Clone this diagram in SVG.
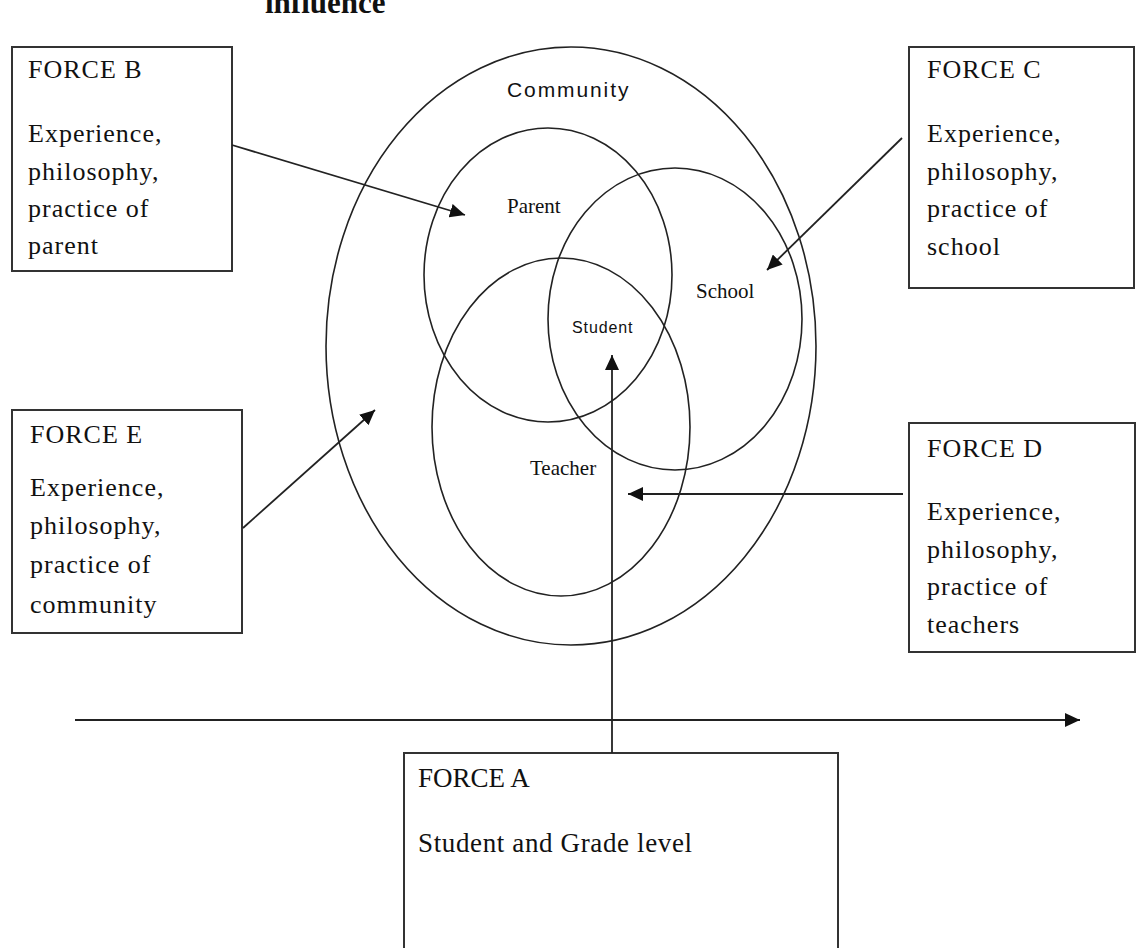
<svg xmlns="http://www.w3.org/2000/svg" width="1137" height="948" viewBox="0 0 1137 948">
<style>
.box{fill:#fff;stroke:#333;stroke-width:2}
.ring{fill:none;stroke:#222;stroke-width:1.6}
.bt{font-family:"Liberation Serif","Times New Roman",serif;font-size:26px;letter-spacing:1px;fill:#111}
.at{font-family:"Liberation Serif","Times New Roman",serif;font-size:27px;fill:#111}
.lbl{font-family:"Liberation Serif","Times New Roman",serif;font-size:21px;fill:#111}
.sans{font-family:"Liberation Sans",Arial,sans-serif;fill:#111}
.con{fill:none;stroke:#222;stroke-width:1.8}
</style>
<defs>
<marker id="ah" markerUnits="userSpaceOnUse" markerWidth="16" markerHeight="14" refX="15" refY="7" orient="auto">
<path d="M0,0 L15,7 L0,14 Z" fill="#111"/>
</marker>
</defs>
<rect width="1137" height="948" fill="#fff"/>
<text x="265" y="13" font-family="Liberation Serif,'Times New Roman',serif" font-size="31" font-weight="bold" fill="#111">influence</text>

<g id="circles">
<ellipse id="community" class="ring" cx="571" cy="346" rx="245" ry="299"/>
<ellipse id="parent" class="ring" cx="548" cy="275" rx="124" ry="147"/>
<ellipse id="school" class="ring" cx="675" cy="319" rx="127" ry="151"/>
<ellipse id="teacher" class="ring" cx="561" cy="427" rx="129" ry="169"/>
</g>
<g id="labels">
<text class="sans" x="507" y="97" font-size="21" letter-spacing="1.9">Community</text>
<text class="lbl" x="507" y="213">Parent</text>
<text class="lbl" x="696" y="298">School</text>
<text class="sans" x="572" y="333" font-size="16" letter-spacing="0.9">Student</text>
<text class="lbl" x="530" y="475">Teacher</text>
</g>

<g id="forceB">
<rect class="box" x="12" y="47" width="220" height="224"/>
<text class="bt" x="28" y="78">FORCE B</text>
<text class="bt" x="28" y="142">Experience,</text>
<text class="bt" x="28" y="180">philosophy,</text>
<text class="bt" x="28" y="217">practice of</text>
<text class="bt" x="28" y="254">parent</text>
</g>
<g id="forceC">
<rect class="box" x="909" y="47" width="225" height="241"/>
<text class="bt" x="927" y="78">FORCE C</text>
<text class="bt" x="927" y="142">Experience,</text>
<text class="bt" x="927" y="180">philosophy,</text>
<text class="bt" x="927" y="217">practice of</text>
<text class="bt" x="927" y="255">school</text>
</g>
<g id="forceE">
<rect class="box" x="12" y="410" width="230" height="223"/>
<text class="bt" x="30" y="443">FORCE E</text>
<text class="bt" x="30" y="496">Experience,</text>
<text class="bt" x="30" y="534">philosophy,</text>
<text class="bt" x="30" y="573">practice of</text>
<text class="bt" x="30" y="613">community</text>
</g>
<g id="forceD">
<rect class="box" x="909" y="423" width="226" height="229"/>
<text class="bt" x="927" y="457">FORCE D</text>
<text class="bt" x="927" y="520">Experience,</text>
<text class="bt" x="927" y="558">philosophy,</text>
<text class="bt" x="927" y="595">practice of</text>
<text class="bt" x="927" y="633">teachers</text>
</g>
<g id="forceA">
<rect class="box" x="404" y="753" width="434" height="210"/>
<text class="at" x="418" y="787">FORCE A</text>
<text class="at" x="418" y="852" textLength="274">Student and Grade level</text>
</g>

<g id="connectors">
<line class="con" x1="232" y1="145" x2="465" y2="215" marker-end="url(#ah)"/>
<line class="con" x1="902" y1="138" x2="767" y2="270" marker-end="url(#ah)"/>
<line class="con" x1="243" y1="528" x2="375" y2="410" marker-end="url(#ah)"/>
<line class="con" x1="903" y1="494" x2="628" y2="494" marker-end="url(#ah)"/>
<line class="con" x1="612" y1="753" x2="612" y2="355" marker-end="url(#ah)"/>
<line class="con" x1="75" y1="720" x2="1080" y2="720" marker-end="url(#ah)"/>
</g>
</svg>
